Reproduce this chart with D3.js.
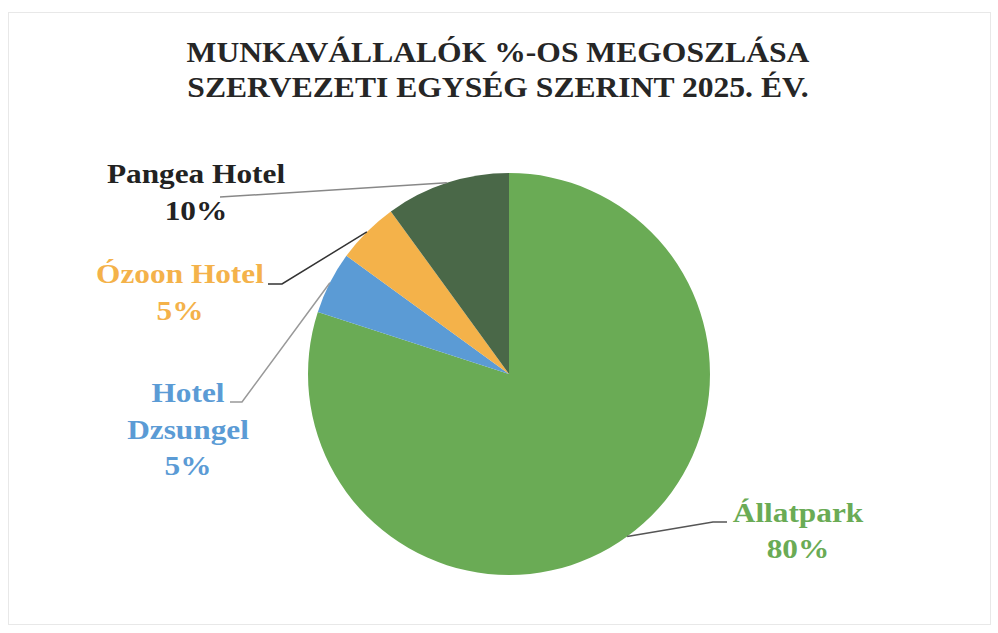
<!DOCTYPE html>
<html>
<head>
<meta charset="utf-8">
<script src="https://cdn.jsdelivr.net/npm/d3@7"></script>
<style>
  body { margin: 0; background: #fff; }
</style>
</head>
<body>
<div id="chart"></div>
<script>
// data
var units = ["Állatpark", "Hotel Dzsungel", "Ózoon Hotel", "Pangea Hotel"];
var shares = [80, 5, 5, 10];
var colors = ["#6aab55", "#5b9bd5", "#f4b24a", "#4a6848"];
var labelColors = ["#6aab55", "#5b9bd5", "#f4b24a", "#222222"];
var labelLines = [["Állatpark", "80%"], ["Hotel", "Dzsungel", "5%"], ["Ózoon Hotel", "5%"], ["Pangea Hotel", "10%"]];
var titleLines = ["MUNKAVÁLLALÓK %-OS MEGOSZLÁSA", "SZERVEZETI EGYSÉG SZERINT 2025. ÉV."];

var width = 998, height = 633;
var cx = 509, cy = 374, radius = 201;
var serif = "'Liberation Serif', 'Times New Roman', serif";

// label block: center x, first baseline, line gap; leader line start and elbow
var labelPos = [
  { x: 798, y: 522, gap: 36, startX: 727, elbowX: 713, elbowY: 522, color: "#555" },
  { x: 188, y: 402, gap: 36.5, startX: 230, elbowX: 242, elbowY: 402, color: "#999" },
  { x: 180, y: 283, gap: 37, startX: 268, elbowX: 282, elbowY: 284, color: "#333" },
  { x: 196, y: 183, gap: 37, startX: 220, elbowX: 220, elbowY: 197, color: "#888" }
];

var svg = d3.select("#chart").append("svg")
  .attr("width", width)
  .attr("height", height);

// faint chart border
svg.append("rect")
  .attr("x", 8.5).attr("y", 12.5)
  .attr("width", 982).attr("height", 612)
  .attr("fill", "none")
  .attr("stroke", "#e8e8e8");

svg.selectAll(".title")
  .data(titleLines)
  .enter().append("g")
  .attr("transform", function(d, i) { return "translate(498," + (62 + i * 35) + ") scale(1.09,1)"; })
  .append("text")
  .attr("text-anchor", "middle")
  .attr("font-family", serif)
  .attr("font-weight", "bold")
  .attr("font-size", 29)
  .attr("fill", "#262626")
  .text(function(d) { return d; });

var pie = d3.pie().sort(null).value(function(d) { return d; });
var arc = d3.arc().innerRadius(0).outerRadius(radius);
var arcs = pie(shares);

var g = svg.append("g").attr("transform", "translate(" + cx + "," + cy + ")");

g.selectAll("path")
  .data(arcs)
  .enter().append("path")
  .attr("d", arc)
  .attr("fill", function(d, i) { return colors[i]; });

// leader lines
arcs.forEach(function(d, i) {
  var mid = (d.startAngle + d.endAngle) / 2;
  var px = cx + radius * Math.sin(mid);
  var py = cy - radius * Math.cos(mid);
  var p = labelPos[i];
  svg.append("polyline")
    .attr("points", [[p.startX, p.elbowY], [p.elbowX, p.elbowY], [px, py]].map(function(q) { return q.join(","); }).join(" "))
    .attr("fill", "none")
    .attr("stroke", p.color)
    .attr("stroke-width", 1.5);
});

// labels (the original type is a bit wider than Times, hence the x-scale)
labelLines.forEach(function(lines, i) {
  var p = labelPos[i];
  lines.forEach(function(s, j) {
    svg.append("g")
      .attr("transform", "translate(" + p.x + "," + (p.y + j * p.gap) + ") scale(1.16,1)")
      .append("text")
      .attr("text-anchor", "middle")
      .attr("font-family", serif)
      .attr("font-weight", "bold")
      .attr("font-size", 27)
      .attr("fill", labelColors[i])
      .text(s);
  });
});
</script>
</body>
</html>
